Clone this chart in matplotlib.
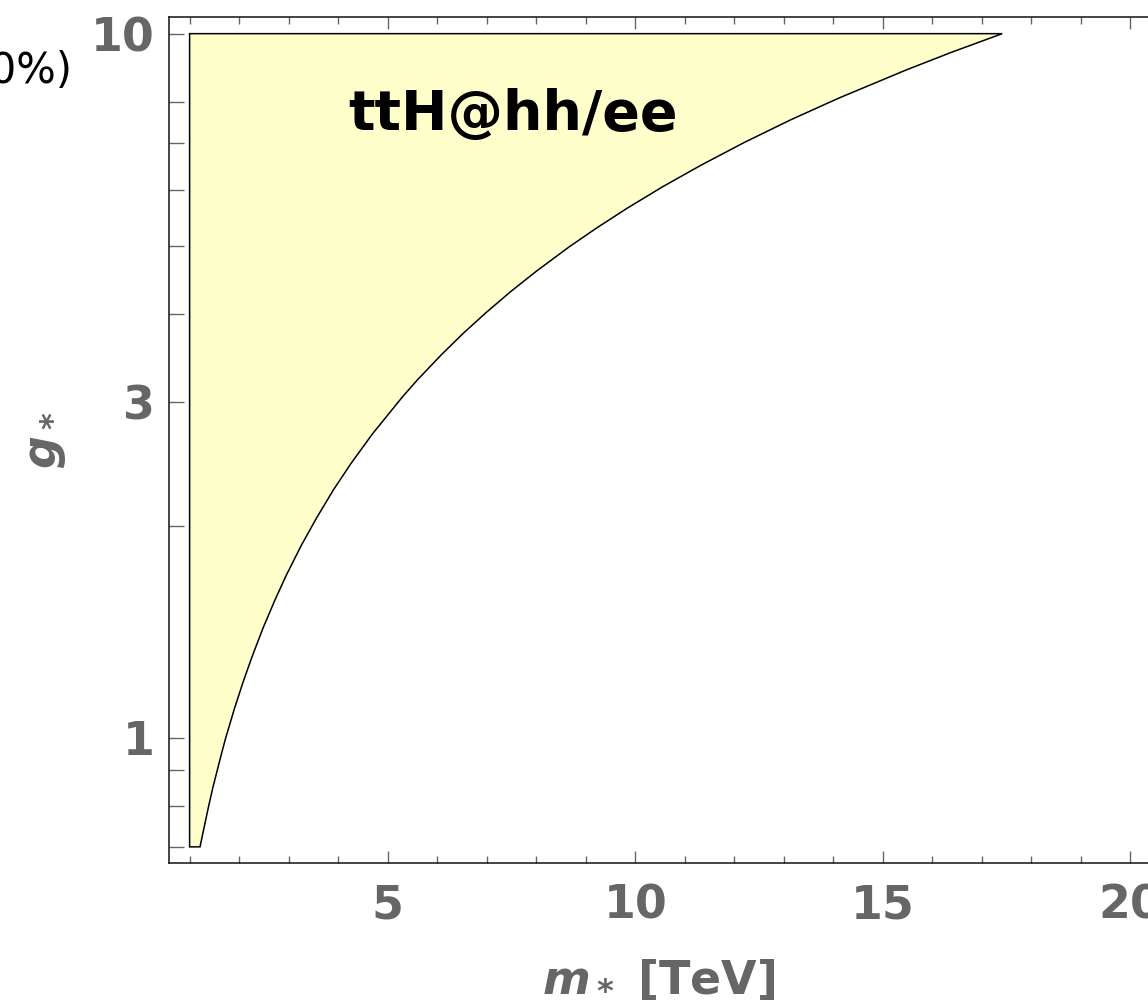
import matplotlib
matplotlib.use('Agg')
import matplotlib.pyplot as plt
from matplotlib.ticker import MultipleLocator, NullFormatter

# boundary of the allowed region in the (m*, g*) plane
m_min = 1.0
g_lo = 0.7
g_hi = 10.0
g_edge = [0.70, 0.75, 0.80, 0.85, 0.90, 0.95, 1.00, 1.10, 1.20, 1.30, 1.43,
          1.57, 1.70, 1.87, 2.05, 2.25, 2.45, 2.70, 3.05, 3.22, 3.50, 3.75,
          4.01, 4.30, 4.60, 4.98, 5.30, 5.65, 6.06, 6.50, 7.00, 7.54, 8.10,
          8.88, 9.40, 10.0]
m_edge = [1.21, 1.30, 1.385, 1.47, 1.56, 1.645, 1.73, 1.905, 2.08, 2.255,
          2.48, 2.725, 2.95, 3.245, 3.56, 3.905, 4.255, 4.69, 5.30, 5.595,
          6.085, 6.52, 6.975, 7.48, 8.005, 8.665, 9.225, 9.835, 10.55, 11.32,
          12.19, 13.13, 14.11, 15.47, 16.37, 17.41]

# axis ticks
x_major = [5, 10, 15, 20]
y_major = [1, 3, 10]
y_minor = [0.7, 0.8, 0.9, 2, 4, 5, 6, 7, 8]

region_label = 'ttH@hh/ee'
corner_label = '(10%)'

plt.rcParams['font.family'] = ['DejaVu Sans']
plt.rcParams['mathtext.fontset'] = 'custom'
plt.rcParams['mathtext.rm'] = 'DejaVu Sans:bold'
plt.rcParams['mathtext.it'] = 'DejaVu Sans:italic:bold'
plt.rcParams['mathtext.bf'] = 'DejaVu Sans:bold'

grey = '#666666'

fig = plt.figure(figsize=(11.48, 10.01), dpi=100)
ax = fig.add_axes([169.3 / 1148, 138 / 1001, 1010.7 / 1148, 846 / 1001])

# polygon: left edge, top edge, then the curve back down
xs = [m_min, m_min] + m_edge[::-1]
ys = [g_lo, g_hi] + g_edge[::-1]
ax.fill(xs, ys, facecolor='#ffffcc', edgecolor='black', linewidth=1.1,
        joinstyle='miter', zorder=2)

ax.set_yscale('log')
ax.set_xlim(0.59, 21.0)
ax.set_ylim(0.664, 10.56)

ax.set_xticks(x_major)
ax.set_xticklabels([str(v) for v in x_major])
ax.xaxis.set_minor_locator(MultipleLocator(1))
ax.set_yticks(y_major)
ax.set_yticklabels([str(v) for v in y_major])
ax.set_yticks(y_minor, minor=True)
ax.yaxis.set_minor_formatter(NullFormatter())

ax.tick_params(axis='x', which='both', direction='in', top=True, bottom=True,
               color=grey, width=1.0, labelsize=33, labelcolor=grey, pad=15)
ax.tick_params(axis='x', which='major', length=8.6)
ax.tick_params(axis='x', which='minor', length=5)
ax.tick_params(axis='y', which='both', direction='in', left=True, right=True,
               color=grey, width=1.0, length=10.8, labelsize=33,
               labelcolor=grey, pad=10.5)
for lab in ax.get_xticklabels() + ax.get_yticklabels():
    lab.set_fontweight('bold')

for sp in ax.spines.values():
    sp.set_color('#111111')
    sp.set_linewidth(1.1)

ax.set_xlabel(r'$m_*$ [TeV]', fontsize=33, fontweight='bold', color=grey)
ax.set_ylabel(r'$g_*$', fontsize=33, fontweight='bold', color=grey)
ax.xaxis.set_label_coords(0.4845, -0.112)
ax.yaxis.set_label_coords(-0.100, 0.5)

ax.text(7.53, 7.3, region_label, ha='center', va='baseline', fontsize=40,
        fontweight='bold', color='black', zorder=3)

fig.text(72 / 1148, (1001 - 83) / 1001, corner_label, ha='right',
         va='baseline', fontsize=30, color='black')

fig.savefig('out.png', dpi=100)
